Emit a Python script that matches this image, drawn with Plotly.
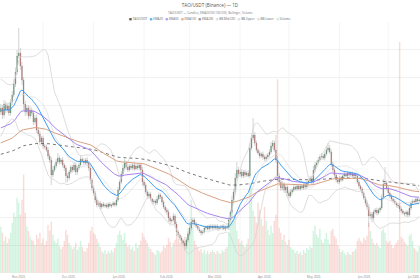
import pandas as pd
import numpy as np
import plotly.graph_objects as go

# ---- warm-up history (daily closes before the visible window, used for indicators) ----
history_close = [
    310, 313, 307, 315, 319, 316, 322, 325, 321, 327, 330, 324, 328, 333, 331, 336, 332, 337, 341, 335,
    339, 343, 338, 342, 345,
    341, 347, 350, 344, 353, 357, 351, 359, 355, 363, 360, 366, 361, 369, 365,
    374, 382, 392, 386, 404, 418, 410, 430, 448, 440, 460, 476, 464, 482, 470, 456, 446, 434, 440, 424,
]

# ---- visible daily candles, 2025-11-05 .. 2026-07-20 ----
first_open = 426
close = [
    434, 420, 442, 430, 438, 424, 446, 460, 482, 506,
    538, 544, 518, 490, 442, 426, 434, 418, 430, 424,
    406, 414, 390, 382, 366, 374, 358, 356, 350, 338,
    330, 300, 310, 318, 326, 334, 326, 330, 320, 314,
    298, 294, 306, 316, 310, 320, 306, 314, 320, 332,
    328, 324, 330, 324, 314, 290, 274, 264, 250, 240,
    244, 236, 242, 238, 240, 236, 242, 238, 240, 244,
    240, 250, 270, 286, 302, 314, 324, 316, 310, 318,
    314, 320, 312, 318, 314, 320, 310, 286, 280, 266,
    258, 262, 252, 246, 248, 244, 252, 260, 256, 246,
    236, 230, 226, 214, 208, 210, 218, 202, 186, 180,
    174, 168, 164, 158, 170, 182, 194, 206, 210, 202,
    198, 192, 188, 184, 186, 194, 196, 192, 198, 194,
    198, 194, 198, 192, 196, 194, 198, 192, 196, 194,
    210, 226, 250, 266, 294, 310, 302, 306, 298, 306,
    300, 304, 298, 354, 374, 380, 364, 350, 344, 338,
    342, 336, 332, 336, 340, 346, 358, 364, 350, 330,
    298, 286, 274, 282, 270, 276, 264, 258, 266, 270,
    276, 272, 278, 272, 278, 274, 280, 276, 284, 288,
    294, 286, 310, 320, 324, 330, 336, 338, 334, 342,
    350, 354, 346, 322, 310, 300, 290, 286, 294, 290,
    298, 302, 298, 304, 300, 304, 298, 302, 298, 286,
    278, 272, 264, 254, 244, 236, 218, 222, 214, 226,
    230, 224, 230, 234, 256, 282, 284, 274, 264, 258,
    252, 248, 244, 240, 238, 232, 228, 224, 222, 226,
    220, 234, 244, 248, 246, 252, 248, 250,
]
upper_wick = [
    8, 6, 8, 5, 6, 7, 6, 8, 10, 9,
    12, 50, 10, 8, 6, 7, 5, 6, 8, 5,
    6, 5, 7, 5, 6, 4, 5, 4, 5, 6,
    5, 6, 8, 5, 6, 10, 5, 4, 6, 4,
    5, 6, 4, 5, 4, 6, 5, 4, 5, 8,
    4, 5, 4, 6, 4, 5, 4, 5, 4, 4,
    5, 4, 3, 4, 3, 4, 3, 4, 3, 4,
    3, 5, 6, 5, 6, 7, 8, 5, 6, 4,
    5, 4, 6, 4, 5, 4, 5, 6, 4, 5,
    4, 5, 4, 3, 4, 3, 6, 5, 4, 3,
    4, 3, 4, 5, 4, 3, 6, 4, 5, 4,
    3, 4, 3, 4, 6, 5, 6, 7, 5, 4,
    4, 3, 4, 3, 4, 5, 3, 4, 3, 4,
    3, 4, 3, 4, 3, 4, 3, 4, 3, 5,
    6, 5, 8, 6, 10, 16, 6, 5, 6, 4,
    5, 4, 6, 10, 8, 34, 6, 5, 4, 5,
    4, 5, 4, 5, 4, 6, 8, 6, 5, 30,
    8, 6, 5, 6, 4, 5, 4, 5, 6, 4,
    4, 3, 4, 3, 4, 3, 4, 3, 4, 3,
    4, 5, 8, 6, 5, 6, 5, 6, 4, 5,
    8, 10, 6, 5, 4, 5, 4, 5, 4, 4,
    3, 4, 3, 4, 3, 4, 3, 4, 3, 4,
    4, 3, 4, 3, 4, 5, 6, 5, 4, 5,
    4, 5, 4, 3, 6, 10, 32, 5, 4, 3,
    4, 3, 4, 3, 4, 6, 5, 4, 3, 4,
    3, 6, 5, 4, 3, 4, 3, 4,
]
lower_wick = [
    6, 8, 6, 7, 5, 6, 5, 6, 5, 6,
    6, 5, 8, 10, 12, 8, 6, 7, 5, 6,
    6, 5, 6, 5, 7, 5, 6, 5, 4, 6,
    6, 20, 5, 4, 5, 4, 5, 4, 5, 6,
    14, 8, 5, 4, 5, 4, 6, 5, 4, 3,
    4, 5, 4, 5, 6, 8, 6, 5, 6, 5,
    4, 5, 4, 3, 4, 3, 4, 3, 4, 3,
    4, 3, 4, 3, 4, 5, 4, 5, 4, 3,
    4, 5, 4, 3, 4, 5, 6, 8, 6, 5,
    6, 5, 4, 5, 4, 5, 4, 3, 4, 5,
    4, 5, 6, 8, 6, 5, 4, 6, 8, 6,
    5, 6, 5, 8, 6, 5, 4, 5, 4, 3,
    4, 3, 4, 5, 4, 3, 4, 3, 4, 3,
    4, 3, 4, 3, 4, 3, 4, 3, 4, 3,
    4, 5, 4, 5, 6, 5, 4, 6, 5, 4,
    5, 4, 3, 5, 4, 5, 6, 5, 4, 5,
    4, 5, 4, 5, 4, 5, 4, 5, 4, 6,
    10, 8, 6, 5, 6, 5, 6, 5, 4, 5,
    4, 3, 4, 3, 4, 3, 4, 5, 4, 5,
    4, 5, 4, 5, 4, 3, 4, 5, 4, 5,
    4, 5, 4, 6, 5, 6, 5, 4, 5, 4,
    3, 4, 3, 4, 3, 4, 3, 4, 3, 4,
    5, 4, 5, 4, 5, 6, 22, 6, 8, 5,
    4, 5, 4, 5, 4, 5, 4, 5, 4, 5,
    4, 3, 4, 5, 4, 6, 5, 4, 5, 6,
    5, 4, 5, 4, 3, 4, 3, 4,
]
volume = [  # thousand TAO
    46, 40, 32, 36, 30, 34, 40, 50, 60, 56,
    75, 70, 58, 73, 98, 60, 46, 42, 36, 33,
    32, 28, 38, 34, 40, 30, 34, 28, 32, 48,
    42, 51, 38, 32, 30, 34, 27, 24, 26, 32,
    43, 38, 30, 27, 24, 26, 30, 23, 26, 32,
    26, 22, 21, 25, 30, 42, 46, 40, 38, 34,
    30, 26, 22, 20, 23, 19, 22, 20, 23, 21,
    25, 30, 38, 42, 38, 33, 40, 30, 26, 28,
    24, 26, 22, 30, 25, 28, 32, 40, 36, 33,
    30, 26, 24, 21, 20, 18, 23, 22, 20, 22,
    27, 25, 28, 35, 31, 26, 30, 33, 38, 34,
    31, 30, 33, 36, 34, 45, 40, 73, 46, 32,
    28, 25, 22, 24, 20, 23, 19, 22, 19, 21,
    23, 21, 19, 22, 20, 19, 23, 21, 24, 26,
    40, 50, 63, 52, 58, 42, 34, 30, 32, 28,
    26, 29, 34, 90, 85, 62, 56, 50, 70, 63,
    54, 47, 66, 52, 43, 38, 47, 40, 52, 58,
    193, 45, 40, 33, 38, 31, 28, 33, 26, 24,
    23, 20, 22, 19, 21, 18, 23, 20, 25, 23,
    27, 25, 42, 47, 38, 35, 44, 33, 30, 34,
    40, 33, 29, 42, 44, 37, 34, 28, 24, 21,
    23, 20, 18, 21, 19, 18, 21, 22, 24, 32,
    35, 32, 30, 35, 33, 37, 50, 42, 34, 30,
    28, 30, 27, 25, 42, 44, 40, 32, 30, 32,
    28, 25, 28, 30, 33, 230, 36, 34, 31, 29,
    27, 37, 39, 32, 25, 23, 21, 27,
]

title_text = "TAO/USDT (Binance) — 1D"
subtitle_text = "TAO/USDT — Candles, EMA20/50/100/200, Bollinger, Volume"
month_labels = ["Nov 2025", "Dec 2025", "Jan 2026", "Feb 2026", "Mar 2026",
                "Apr 2026", "May 2026", "Jun 2026", "Jul 2026"]

# ---- derived series ----
dates = pd.date_range("2025-11-05", periods=len(close), freq="D")
hist_dates = pd.date_range(end=dates[0] - pd.Timedelta(days=1), periods=len(history_close), freq="D")
opens = [first_open] + close[:-1]
high = [max(o, c) + u for o, c, u in zip(opens, close, upper_wick)]
low = [min(o, c) - l for o, c, l in zip(opens, close, lower_wick)]

full = pd.Series(history_close + close, index=hist_dates.append(dates), dtype=float)
ema = {n: full.ewm(span=n, adjust=False).mean().loc[dates] for n in (20, 50, 100, 200)}
bb_mid = full.rolling(20).mean()
bb_sd = full.rolling(20).std(ddof=0)
bb_up = (bb_mid + 2 * bb_sd).loc[dates]
bb_lo = (bb_mid - 2 * bb_sd).loc[dates]
bb_mid = bb_mid.loc[dates]

x_start = dates[0] - pd.Timedelta(hours=12)
x_end = dates[-1] + pd.Timedelta(hours=12)

# month labels centred on each month period; gridlines at month starts
month_starts = [pd.Timestamp(m) for m in pd.to_datetime(month_labels, format="%b %Y")]
month_ends = month_starts[1:] + [month_starts[-1] + pd.offsets.MonthBegin(1)]
label_pos = [(a + (b - a) / 2).strftime("%Y-%m-%d %H:%M") for a, b in zip(month_starts, month_ends)]
grid_pos = [m for m in month_starts if x_start <= m <= x_end]

up_color = "#2f8a53"
dn_color = "#c0504d"
vol_colors = ["rgba(46,204,113,0.22)" if c >= o else "rgba(231,76,60,0.2)" for o, c in zip(opens, close)]

fig = go.Figure()
fig.add_trace(go.Bar(x=dates, y=volume, name="Volume", marker=dict(color=vol_colors, line_width=0),
                     yaxis="y", showlegend=False))

fig.add_trace(go.Candlestick(
    x=dates, open=opens, high=high, low=low, close=close, name="TAO/USDT", yaxis="y2",
    increasing=dict(line=dict(color="rgba(140,140,140,0.75)", width=0.5), fillcolor=up_color),
    decreasing=dict(line=dict(color="rgba(140,140,140,0.75)", width=0.5), fillcolor=dn_color),
    whiskerwidth=0, showlegend=False))

line_specs = [
    (bb_up, "BB Upper", "#d4d4d4", 0.8, "solid"),
    (bb_lo, "BB Lower", "#d4d4d4", 0.8, "solid"),
    (bb_mid, "BB Mid (20)", "#dcdcdc", 0.7, "solid"),
    (ema[200], "EMA200", "#555555", 0.8, "dot"),
    (ema[100], "EMA100", "#d9a283", 1.0, "solid"),
    (ema[50], "EMA50", "#a685f2", 1.0, "solid"),
    (ema[20], "EMA20", "#3f9cf0", 1.0, "solid"),
]
for s, nm, col, w, dash in line_specs:
    fig.add_trace(go.Scatter(x=dates, y=s.values, name=nm, mode="lines",
                             line=dict(color=col, width=w, dash=dash), yaxis="y2", showlegend=False))

legend_items = [
    ("#555555", "TAO/USDT"), ("#64b0f4", "EMA20"), ("#b49cf5", "EMA50"), ("#e0b49c", "EMA100"),
    ("#9a9a9a", "EMA200"), ("#dedede", "BB Mid (20)"), ("#dedede", "BB Upper"), ("#dedede", "BB Lower"),
    ("#c8f0d8", "Volume"),
]
legend_html = "&nbsp;&nbsp;&nbsp;".join(
    f'<span style="color:{c}">■</span> {t}' for c, t in legend_items)

# month labels placed on the date axis (axis tick labels near the right edge get dropped)
month_annotations = [
    dict(text=t, x=p, y=-4 / 251, xref="x", yref="paper", showarrow=False,
         xanchor="center", yanchor="middle", font=dict(size=3, color="#888"))
    for p, t in zip(label_pos, month_labels)
]

fig.update_layout(
    width=420, height=280, autosize=False,
    margin=dict(l=0, r=0, t=22, b=7, pad=0),
    paper_bgcolor="white", plot_bgcolor="white",
    font=dict(family="Open Sans, DejaVu Sans, sans-serif", color="#666"),
    title=dict(text=title_text, x=0.5, xanchor="center", y=1 - 5 / 280, yanchor="middle",
               yref="container", font=dict(size=4.6, color="#555")),
    bargap=0.12,
    xaxis=dict(type="date", range=[x_start.strftime("%Y-%m-%d %H:%M"), x_end.strftime("%Y-%m-%d %H:%M")],
               rangeslider=dict(visible=False),
               tickmode="array", tickvals=label_pos, ticktext=month_labels,
               showticklabels=False, showgrid=False, ticks="",
               showline=False, zeroline=False),
    yaxis=dict(range=[0, 250], dtick=250 / 9, showgrid=True, gridcolor="#f1f1f1", gridwidth=0.6,
               showticklabels=False, zeroline=False, ticks=""),
    yaxis2=dict(range=[104, 606], overlaying="y", showgrid=False, showticklabels=False,
                zeroline=False, ticks=""),
    showlegend=False,
    shapes=[dict(type="line", xref="x", yref="paper", x0=m, x1=m, y0=0, y1=1, layer="below",
                 line=dict(color="#efefef", width=0.6)) for m in grid_pos],
    annotations=[
        dict(text=subtitle_text, x=0.5, y=1 + (22 - 12.5) / 251, xref="paper", yref="paper",
             showarrow=False, xanchor="center", yanchor="middle", font=dict(size=3, color="#777")),
        dict(text=legend_html, x=0.5, y=1 + (22 - 18.5) / 251, xref="paper", yref="paper",
             showarrow=False, xanchor="center", yanchor="middle", font=dict(size=3, color="#666")),
    ] + month_annotations,
)

fig.write_html("out.html")
